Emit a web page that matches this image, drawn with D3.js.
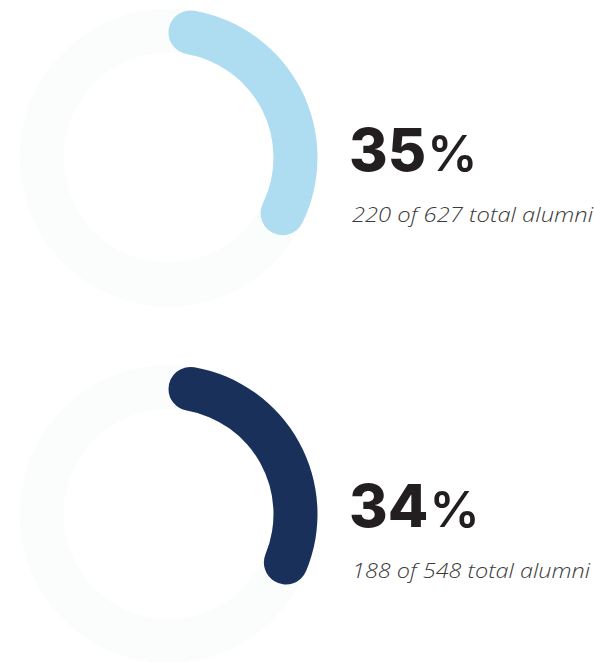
<!DOCTYPE html>
<html>
<head>
<meta charset="utf-8">
<script src="https://cdn.jsdelivr.net/npm/d3@7"></script>
<style>
  html, body { margin: 0; padding: 0; background: #ffffff; }
  svg { display: block; }
</style>
</head>
<body>
<div id="chart"></div>
<script>
// Alumni share figures
const percents = [35, 34];
const counts = [220, 188];
const totals = [627, 548];
const arcColors = ["#aedcf0", "#19315a"];

const width = 595, height = 662;
const svg = d3.select("#chart").append("svg")
  .attr("width", width)
  .attr("height", height);

const angle = d3.scaleLinear().domain([0, 100]).range([0, 2 * Math.PI]);
const rOuter = 149, rInner = 105;

const track = d3.arc().innerRadius(rInner).outerRadius(rOuter)
  .startAngle(0).endAngle(2 * Math.PI);
const valueArc = d3.arc().innerRadius(rInner).outerRadius(rOuter)
  .cornerRadius((rOuter - rInner) / 2)
  .startAngle(0);

const centersY = [157.5, 514];
const subWidths = [241, 238];
const cx = 168.5;

percents.forEach((p, i) => {
  const g = svg.append("g").attr("transform", `translate(${cx},${centersY[i]})`);
  g.append("path").attr("d", track()).attr("fill", "#fbfcfc");
  g.append("path").attr("d", valueArc({ endAngle: angle(p) })).attr("fill", arcColors[i]);

  const t = svg.append("g").attr("transform", `translate(349,${centersY[i]})`);
  const big = t.append("text")
    .attr("x", 0).attr("y", 13)
    .attr("font-family", "Inter, 'Open Sans', sans-serif")
    .attr("fill", "#231f20");
  big.append("tspan").attr("font-size", 59).attr("font-weight", 800).text(p);
  big.append("tspan").attr("font-size", 50).attr("font-weight", 600).attr("dx", 1).text("%");

  t.append("text")
    .attr("x", 3).attr("y", 64)
    .attr("font-family", "'Open Sans', Lato, sans-serif")
    .attr("font-style", "italic")
    .attr("font-weight", 300)
    .attr("font-size", 20)
    .attr("fill", "#3a3a3a")
    .attr("textLength", subWidths[i])
    .attr("lengthAdjust", "spacingAndGlyphs")
    .text(`${counts[i]} of ${totals[i]} total alumni`);
});
</script>
</body>
</html>
